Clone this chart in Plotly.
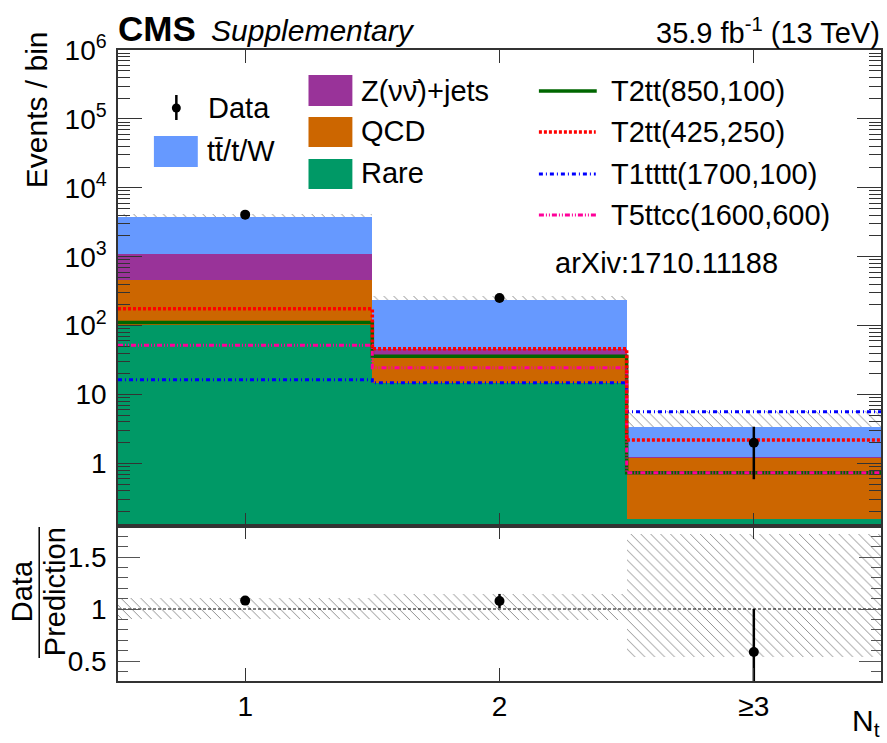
import plotly.graph_objects as go

# ---- data ---------------------------------------------------------------
bins = [1, 2, 3]
bin_labels = ["1", "2", "≥3"]
bin_edges = [0.5, 1.5, 2.5, 3.5]

# background components per bin (events)
rare = [102, 14.8, 0.158]
qcd = [354, 19.7, 1.05]
zinv = [656, 11.0, 0.02]
ttw = [2663, 188.5, 2.18]

data = [4080, 252, 2]
data_err = [64, 15.9, 1.41]

# relative systematic band on the prediction
unc_lo = [0.90, 0.894, 0.535]
unc_hi = [1.103, 1.144, 1.72]

# signal models
sig_t2tt_850 = [111, 36, 0.73]
sig_t2tt_425 = [175, 46, 2.19]
sig_t1tttt = [16.4, 14.8, 5.63]
sig_t5ttcc = [52, 24.5, 0.73]

y_tickvals = [1, 10, 100, 1e3, 1e4, 1e5, 1e6]
y_ticktext = ["1", "10", "10<sup>2</sup>", "10<sup>3</sup>",
              "10<sup>4</sup>", "10<sup>5</sup>", "10<sup>6</sup>"]

# ---- colours --------------------------------------------------------------
C_TTW = "#6699ff"
C_Z = "#993399"
C_QCD = "#cc6600"
C_RARE = "#009966"
C_G = "#006600"
C_R = "#ff0000"
C_B = "#0000ff"
C_P = "#ff0099"
FONT = "Liberation Sans"

# ---- page geometry -------------------------------------------------------------
W, H = 887, 743
ML, MR, MT, MB = 118, 4, 50, 62
PW, PH = W - ML - MR, H - MT - MB


def px(x):
    return (x - ML) / PW


def py(y):
    return (H - MB - y) / PH


# cumulative stack levels
c_rare = rare[:]
c_qcd = [a + b for a, b in zip(c_rare, qcd)]
c_z = [a + b for a, b in zip(c_qcd, zinv)]
c_tot = [a + b for a, b in zip(c_z, ttw)]

fig = go.Figure()

hatch = dict(shape="\\", fgcolor="#8f8f8f", bgcolor="rgba(0,0,0,0)",
             size=7, solidity=0.14, fillmode="replace")

# uncertainty band (main panel), drawn under the stack
fig.add_trace(go.Bar(
    x=bins, base=[t * lo for t, lo in zip(c_tot, unc_lo)],
    y=[t * (hi - lo) for t, lo, hi in zip(c_tot, unc_lo, unc_hi)],
    width=1, marker=dict(color="rgba(0,0,0,0)", line_width=0, pattern=hatch),
    xaxis="x", yaxis="y", showlegend=False, hoverinfo="skip"))

for vals, col in [(c_tot, C_TTW), (c_z, C_Z), (c_qcd, C_QCD), (c_rare, C_RARE)]:
    fig.add_trace(go.Bar(x=bins, y=vals, width=1,
                         marker=dict(color=col, line_width=0),
                         xaxis="x", yaxis="y", showlegend=False))

# signal step histograms
for vals, col, dash, w in [
    (sig_t2tt_850, C_G, "solid", 3.5),
    (sig_t1tttt, C_B, "4px,3px,1px,3px", 3),
    (sig_t5ttcc, C_P, "5px,2px,1px,2px,1px,2px", 3),
    (sig_t2tt_425, C_R, "3px,2px", 3.5),
]:
    fig.add_trace(go.Scatter(
        x=bin_edges, y=vals + [vals[-1]], mode="lines", line_shape="hv",
        line=dict(color=col, dash=dash, width=w),
        xaxis="x", yaxis="y", showlegend=False))

# observed data
fig.add_trace(go.Scatter(
    x=bins, y=data, mode="markers",
    marker=dict(color="black", size=10),
    error_y=dict(type="data", array=data_err, color="black", thickness=2.5, width=0),
    xaxis="x", yaxis="y", showlegend=False))

# ---- ratio panel -----------------------------------------------------------------
fig.add_trace(go.Bar(
    x=bins, base=unc_lo, y=[hi - lo for lo, hi in zip(unc_lo, unc_hi)],
    width=1, marker=dict(color="rgba(0,0,0,0)", line_width=0, pattern=hatch),
    xaxis="x2", yaxis="y2", showlegend=False, hoverinfo="skip"))
fig.add_trace(go.Scatter(
    x=[bin_edges[0], bin_edges[-1]], y=[1, 1], mode="lines",
    line=dict(color="black", width=1, dash="3px,2px"),
    xaxis="x2", yaxis="y2", showlegend=False))
ratio = [d / t for d, t in zip(data, c_tot)]
ratio_err = [e / t for e, t in zip(data_err, c_tot)]
fig.add_trace(go.Scatter(
    x=bins, y=ratio, mode="markers",
    marker=dict(color="black", size=10),
    error_y=dict(type="data", array=ratio_err, color="black", thickness=2.5, width=0),
    xaxis="x2", yaxis="y2", showlegend=False))

# ---- axes ----------------------------------------------------------------------
tickfont = dict(family=FONT, size=28, color="black")
common_x = dict(range=[bin_edges[0], bin_edges[-1]], tickvals=bins,
                ticks="inside", ticklen=13, tickcolor="#333", tickwidth=1,
                showline=True, linecolor="#333", linewidth=1.5, mirror="ticks",
                showgrid=False, zeroline=False)
main_dom = [py(525.5), 1]
ratio_dom = [0, py(526)]

fig.update_layout(
    width=W, height=H, autosize=False,
    margin=dict(l=ML, r=MR, t=MT, b=MB, pad=0),
    paper_bgcolor="white", plot_bgcolor="white",
    barmode="overlay", bargap=0,
    xaxis=dict(**common_x, anchor="y", showticklabels=False),
    xaxis2=dict(**common_x, anchor="y2", matches="x",
                ticktext=bin_labels, tickfont=tickfont),
    yaxis=dict(type="log", domain=main_dom, range=[-0.901, 6], anchor="x",
               tickmode="array", tickvals=y_tickvals, ticktext=y_ticktext,
               ticks="inside", ticklen=24, tickwidth=1, tickcolor="#333",
               minor=dict(ticks="inside", ticklen=12, tickcolor="#333",
                          dtick="D1", showgrid=False),
               showline=True, linecolor="#333", linewidth=1.5, mirror="allticks",
               showgrid=False, zeroline=False, tickfont=tickfont,
               ticklabelstandoff=4),
    yaxis2=dict(domain=ratio_dom, range=[0.308, 1.798], anchor="x2",
                tickvals=[0.5, 1, 1.5], ticktext=["0.5", "1", "1.5"],
                ticks="inside", ticklen=22, tickwidth=1, tickcolor="#555",
                minor=dict(ticks="inside", ticklen=10, tickcolor="#555",
                           dtick=0.1, showgrid=False),
                showline=True, linecolor="#333", linewidth=1.5, mirror="allticks",
                showgrid=False, zeroline=False, tickfont=tickfont,
                ticklabelstandoff=4),
)

# ---- texts ---------------------------------------------------------------------
ann = []


def text(x, y, s, size=29, xanchor="left", yanchor="middle", **kw):
    ann.append(dict(x=px(x), y=py(y), xref="paper", yref="paper", text=s,
                    showarrow=False, xanchor=xanchor, yanchor=yanchor,
                    font=dict(family=FONT, size=size, color="black"), **kw))


text(116, 28, "<b>CMS</b>", size=35)
text(209, 30, "<i>Supplementary</i>", size=30)
text(884, 31, "35.9 fb<sup>-1</sup> (13 TeV)", size=29, xanchor="right")
text(37, 110, "Events / bin", size=30, xanchor="center", textangle=-90)
text(22, 591, "Data", size=29, xanchor="center", textangle=-90)
text(55, 592, "Prediction", size=29, xanchor="center", textangle=-90)
text(884, 722, "N<sub>t</sub>", size=30, xanchor="right")
text(554, 263, "arXiv:1710.11188", size=29)

# legend
text(206, 108, "Data")
text(205, 151, "tt\u0304/t/W")
text(360, 91, "Z(\u03bd\u03bd\u0304)+jets")
text(360, 131, "QCD")
text(360, 173, "Rare")
text(610, 91, "T2tt(850,100)")
text(610, 132, "T2tt(425,250)")
text(610, 174, "T1tttt(1700,100)")
text(610, 215, "T5ttcc(1600,600)")
fig.update_layout(annotations=ann)

shapes = []


def box(x0, y0, x1, y1, col):
    shapes.append(dict(type="rect", xref="paper", yref="paper",
                       x0=px(x0), x1=px(x1), y0=py(y1), y1=py(y0),
                       fillcolor=col, line=dict(width=0)))


def hline(x0, x1, y, col, dash, w=3):
    shapes.append(dict(type="line", xref="paper", yref="paper",
                       x0=px(x0), x1=px(x1), y0=py(y), y1=py(y),
                       line=dict(color=col, dash=dash, width=w)))


box(154, 136, 198, 167, C_TTW)
box(309, 75, 353, 106, C_Z)
box(309, 117, 353, 147, C_QCD)
box(309, 159, 353, 189, C_RARE)
hline(540, 598, 91, C_G, "solid", 3.5)
hline(540, 597, 132, C_R, "3px,2px", 3.5)
hline(540, 597, 174, C_B, "4px,3px,1px,3px")
hline(540, 598, 215, C_P, "5px,2px,1px,2px,1px,2px")
# data legend marker: error bar + dot
shapes.append(dict(type="line", xref="paper", yref="paper",
                   x0=px(176.5), x1=px(176.5), y0=py(95), y1=py(120),
                   line=dict(color="black", width=2.5)))
shapes.append(dict(type="circle", xref="paper", yref="paper",
                   x0=px(172), x1=px(181), y0=py(112.5), y1=py(103.5),
                   fillcolor="black", line=dict(width=0)))
# fraction bar of the ratio title
shapes.append(dict(type="line", xref="paper", yref="paper",
                   x0=px(39), x1=px(39), y0=py(527), y1=py(658),
                   line=dict(color="black", width=1.5)))
fig.update_layout(shapes=shapes)

fig.write_html("out.html")
